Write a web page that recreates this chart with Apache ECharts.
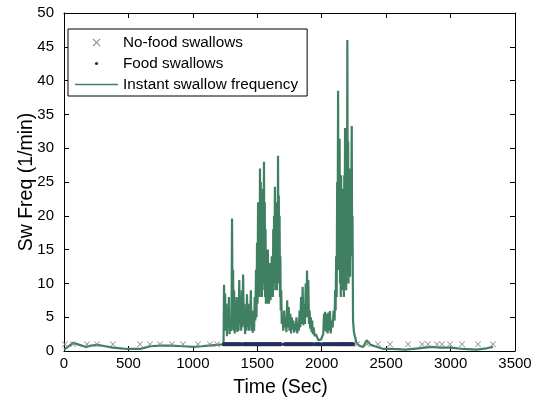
<!DOCTYPE html>
<html><head><meta charset="utf-8">
<script src="https://cdn.jsdelivr.net/npm/echarts@6/dist/echarts.min.js"></script>
<style>html,body{margin:0;padding:0;background:#fff}#c{width:536px;height:403px}</style>
</head><body><div id="c"></div>
<script>
// ---- data ----
const xTicks = [0, 500, 1000, 1500, 2000, 2500, 3000, 3500];
const yTicks = [0, 5, 10, 15, 20, 25, 30, 35, 40, 45, 50];
const seriesNames = ['No-food swallows', 'Food swallows', 'Instant swallow frequency'];

const noFoodTimes = [8, 70, 178, 256, 380, 590, 667, 745, 838, 923, 1040, 1133, 1187,
  2274, 2351, 2437, 2530, 2670, 2779, 2825, 2895, 2934, 2996, 3089, 3213, 3329];
const noFoodValues = [1,1,1,1,1,1,1,1,1,1,1,1,1, 1,1,1,1,1,1,1,1,1,1,1,1,1];

const foodTimes = [1240,1248,1256,1262,1270,1278,1286,1292,1300,1306,1314,1322,1330,1338,1346,1352,1360,1368,1376,
  1392,1400,1406,1412,1418,1424,1430,1436,1444,1452,1460,1468,1474,1480,1486,1492,1498,1504,1510,1516,1522,1528,
  1534,1540,1546,1552,1558,1564,1570,1576,1582,1588,1594,1600,1606,1612,1618,1624,1630,1636,1642,1648,1654,1660,
  1666,1672,1678,1684,
  1712,1720,1728,1736,1744,1752,1760,1768,1776,1784,1790,1798,1806,1814,1822,1830,1838,1846,1854,1862,1868,1876,
  1884,1892,1900,1908,1916,1924,1932,
  1950,1958,1966,1974,1982,1990,
  2010,2018,2026,2034,2042,2050,2058,2066,2074,2082,2090,2098,2106,2114,2122,2130,2136,2142,2148,2154,2160,2166,
  2172,2178,2184,2190,2196,2202,2208,2214,2220,2226,2232,2238,2244];
const foodValues = foodTimes.map(() => 1);

// [time (s), instant swallow frequency (1/min)]
const freqSamples = [
  [0,0.2],[35,0.7],[70,1.2],[120,0.9],[170,0.6],[210,0.8],[260,0.9],[320,0.7],[380,0.5],[440,0.4],[490,0.3],
  [540,0.3],[590,0.3],[630,0.5],[670,0.7],[750,0.8],[830,0.8],[920,0.7],[1010,0.6],[1070,0.7],[1120,0.8],
  [1190,0.9],[1238,1.0],
  [1242,9.8],[1245,4],[1250,8.5],[1255,3],[1260,7],[1265,2.2],[1270,6],[1275,3.5],[1280,8],[1285,2.5],[1290,5],
  [1295,3],[1300,3.5],[1304,19.6],[1308,6],[1312,12],[1316,3],[1320,9],[1325,2.6],[1330,7],[1335,3.2],[1340,8],
  [1345,2.8],[1350,6],[1355,3],[1360,10.5],[1365,4],[1370,7.5],[1375,3],[1380,9],[1385,3.5],[1390,11.3],[1395,4],
  [1400,7],[1405,2.5],[1410,6],[1415,3],[1420,8.4],[1425,3.5],[1430,7],[1435,3],[1440,5.5],[1445,4],[1450,9],
  [1455,3],[1460,6],[1465,2.7],[1470,5],[1475,3],[1480,8],[1485,4.5],
  [1490,12],[1494,5],[1498,16],[1502,7],[1506,22],[1510,9],[1514,18],[1518,8],[1521,27],[1524,10],[1527,25],
  [1530,9],[1533,20],[1536,8],[1539,15],[1542,9],[1545,24],[1548,10],[1552,28],[1555,11],[1558,22],[1561,8],
  [1564,18],[1567,7],[1570,13],[1573,8],[1576,12],[1579,7],[1582,15],[1585,8],[1588,10],[1591,7],[1594,13],
  [1597,8],[1600,12],[1603,7.5],[1606,11],[1609,8],[1612,14],[1615,9],[1618,12],[1621,8],[1624,18],[1627,9],
  [1630,20],[1633,10],[1637,24.3],[1640,12],[1643,19],[1646,9],[1649,17],[1652,9],[1655,22],[1658,12],
  [1661,28.9],[1664,14],[1667,23],[1670,10],[1673,20],[1676,8],[1679,14],[1682,6],[1686,9],[1690,4],[1696,5.3],
  [1702,3],[1708,6],[1714,3.5],[1720,5],[1726,2.8],[1732,7.5],[1738,3.5],[1744,6.5],[1750,3],[1756,5.5],
  [1762,2.6],[1768,5],[1774,3.2],[1780,4.5],[1786,2.7],[1792,4],[1798,3],[1804,5],[1810,2.6],[1816,4.2],
  [1822,3],[1828,6],[1834,3.5],[1840,8],[1846,4],[1852,9.5],[1858,3.8],[1864,7],[1870,4],[1876,10],[1882,5],
  [1886,11.9],[1891,5],[1896,10.5],[1901,4],[1906,6],[1911,3.3],[1916,5],[1921,2.8],[1926,4.5],[1931,2.5],
  [1937,3.5],[1945,2.2],[1955,2.5],[1965,2],[1975,1.6],[1985,1.5],[1995,1.7],[2005,2.2],[2012,2.5],[2018,5.5],
  [2022,3],[2026,5.8],[2030,3.2],[2034,5.5],[2038,2.8],[2042,5],[2046,2.6],[2052,5.7],[2058,3],[2064,5.9],
  [2070,2.6],[2078,4.5],[2085,3.5],[2092,6],
  [2100,4.5],[2104,9],[2108,6],[2112,14],[2116,8],[2120,25],[2123,12],[2127,38.5],[2130,15],[2133,28],
  [2136,12],[2139,31.4],[2142,10],[2145,22],[2148,8],[2151,26],[2154,12],[2157,20],[2160,9],[2163,24],
  [2166,10],[2169,18],[2172,8],[2175,26],[2178,13],[2181,33],[2184,14],[2187,24],[2190,9],[2193,28],[2196,17],
  [2199,46],[2202,18],[2205,31],[2208,10],[2211,26],[2214,13],[2217,22],[2220,11],[2223,27],[2226,14],
  [2229,22],[2233,33.3],[2236,15],[2239,20],[2243,4.5],
  [2250,2.8],[2270,1.2],[2290,0.8],[2320,0.6],[2350,1.6],[2380,0.9],[2430,0.6],[2480,0.3],[2550,0.3],
  [2650,0.2],[2750,0.4],[2850,0.6],[2920,0.5],[3000,0.5],[3100,0.3],[3200,0.2],[3280,0.4],[3330,0.6]
];

// ---- chart ----
const FONT = 'Liberation Sans, Arial, sans-serif';
const lineColor = '#3f7f62';
const crossColor = '#8c8c8c';
const dotColor = '#22305e';
const crossPath = 'path://M0,1L1,0L5,4L9,0L10,1L6,5L10,9L9,10L5,6L1,10L0,9L4,5Z';
const dotIcon = 'path://M0,0M10,10M3,5A2,2 0 1 1 7,5A2,2 0 1 1 3,5Z';
const lineIcon = 'path://M0,0L43,0L43,1.6L0,1.6Z';

const pair = (xs, ys) => xs.map((x, i) => [x, ys[i]]);

const chart = echarts.init(document.getElementById('c'), null, {renderer: 'canvas'});
const axisCommon = {
  axisLine: {show: true, onZero: false, lineStyle: {color: '#000', width: 1}},
  axisTick: {show: true, inside: true, length: 5, lineStyle: {color: '#000'}},
  splitLine: {show: false}
};
chart.setOption({
  animation: false,
  backgroundColor: '#fff',
  textStyle: {fontFamily: FONT},
  grid: {left: 64, right: 21, top: 13, bottom: 48, containLabel: false},
  legend: {
    orient: 'vertical', left: 68, top: 29,
    padding: [3, 9, 1, 7],
    borderColor: '#000', borderWidth: 1, backgroundColor: '#fff',
    itemWidth: 43, itemHeight: 8, itemGap: 0,
    textStyle: {fontFamily: FONT, fontSize: 15.3, color: '#000', lineHeight: 21},
    data: [
      {name: seriesNames[0], icon: crossPath},
      {name: seriesNames[1], icon: dotIcon},
      {name: seriesNames[2], icon: lineIcon}
    ]
  },
  xAxis: [
    Object.assign({
      type: 'value', min: 0, max: 3500, interval: 500, position: 'bottom',
      name: 'Time (Sec)', nameLocation: 'middle', nameGap: 27, nameMoveOverlap: false,
      nameTextStyle: {fontFamily: FONT, fontSize: 19.5, color: '#000', padding: [0, 18, 0, 0]},
      axisLabel: {fontFamily: FONT, fontSize: 15, color: '#000', margin: 5,
        formatter: v => xTicks.includes(v) ? String(v) : ''}
    }, axisCommon),
    Object.assign({
      type: 'value', min: 0, max: 3500, interval: 500, position: 'top',
      axisLabel: {show: false}
    }, axisCommon)
  ],
  yAxis: [
    Object.assign({
      type: 'value', min: 0, max: 50, interval: 5, position: 'left',
      name: 'Sw Freq (1/min)', nameLocation: 'middle', nameGap: 27, nameMoveOverlap: false,
      nameTextStyle: {fontFamily: FONT, fontSize: 19.5, color: '#000'},
      axisLabel: {fontFamily: FONT, fontSize: 15, color: '#000', margin: 10,
        formatter: v => yTicks.includes(v) ? String(v) : ''}
    }, axisCommon),
    Object.assign({
      type: 'value', min: 0, max: 50, interval: 5, position: 'right',
      axisLabel: {show: false}
    }, axisCommon)
  ],
  series: [
    {
      name: seriesNames[2], type: 'line', data: freqSamples,
      symbol: 'none', showSymbol: false, z: 2,
      lineStyle: {color: lineColor, width: 2.2}, itemStyle: {color: lineColor}
    },
    {
      name: seriesNames[0], type: 'scatter', data: pair(noFoodTimes, noFoodValues),
      symbol: crossPath, symbolSize: 6, z: 3,
      itemStyle: {color: crossColor, opacity: 1}
    },
    {
      name: seriesNames[1], type: 'scatter', data: pair(foodTimes, foodValues),
      symbol: 'circle', symbolSize: 4, z: 4,
      itemStyle: {color: dotColor, opacity: 1}
    }
  ]
});
</script></body></html>
